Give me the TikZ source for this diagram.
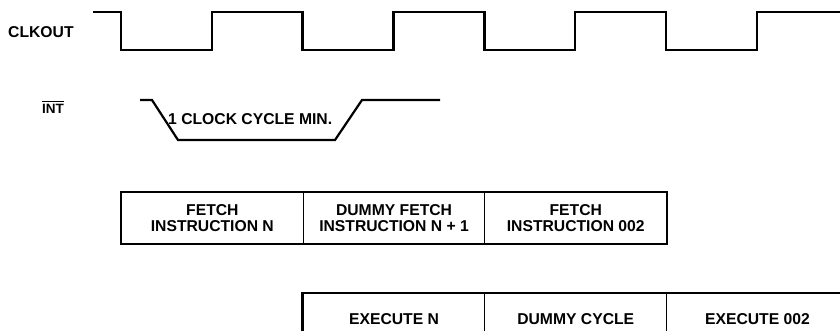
\documentclass[tikz,border=0pt]{standalone}
\usepackage{fontspec}
\setmainfont{Liberation Sans}
\begin{document}
\begin{tikzpicture}[x=1pt,y=-1pt,
  lbl/.style={font=\bfseries\fontsize{15.7}{16}\selectfont, inner sep=0pt},
  cell/.style={draw, line width=1pt, minimum width=181.7pt, minimum height=51pt,
    inner sep=0pt, anchor=north west, align=center,
    font=\bfseries\fontsize{15.7}{16}\selectfont},
  wave/.style={line width=2.5pt, line join=miter},
  frame/.style={line width=2.5pt}]
\useasboundingbox (0,0) rectangle (840,330);
\fill[white] (0,0) rectangle (840,330);
\clip (0,0) rectangle (840,330);
% labels
\node[lbl, anchor=west] (clk) at (8,32) {CLKOUT};
\node[lbl, anchor=west, font=\bfseries\fontsize{13.5}{14}\selectfont] (int) at (42,109) {INT};
\draw[line width=1.1pt] ([yshift=2.6pt]int.north west) -- ([yshift=2.6pt]int.north east);
% clock waveform
\draw[wave] (93,12) -- (121,12) -- (121,50) -- (211.8,50) -- (211.8,12)
  -- (302.7,12) -- (302.7,50) -- (393.5,50) -- (393.5,12)
  -- (484.4,12) -- (484.4,50) -- (575.2,50) -- (575.2,12)
  -- (666.1,12) -- (666.1,50) -- (756.9,50) -- (756.9,12) -- (845,12);
% INT waveform
\draw[wave, line width=2.2pt] (140,100) -- (152,100) -- (178,140) -- (335,140)
  -- (362,100) -- (440,100);
\node[lbl, anchor=west] (intmsg) at (168,119) {1 CLOCK CYCLE MIN.};
% fetch row
\node[cell] (f1) at (121,192) {FETCH\\INSTRUCTION N};
\node[cell] (f2) at (302.7,192) {DUMMY FETCH\\INSTRUCTION N + 1};
\node[cell] (f3) at (484.4,192) {FETCH\\INSTRUCTION 002};
\draw[frame] (f1.north west) rectangle (f3.south east);
% execute row
\node[cell] (e1) at (302.7,293) {EXECUTE N};
\node[cell] (e2) at (484.4,293) {DUMMY CYCLE};
\node[cell] (e3) at (666.1,293) {EXECUTE 002};
\draw[frame] (e1.north west) rectangle (e3.south east);
\end{tikzpicture}
\end{document}
